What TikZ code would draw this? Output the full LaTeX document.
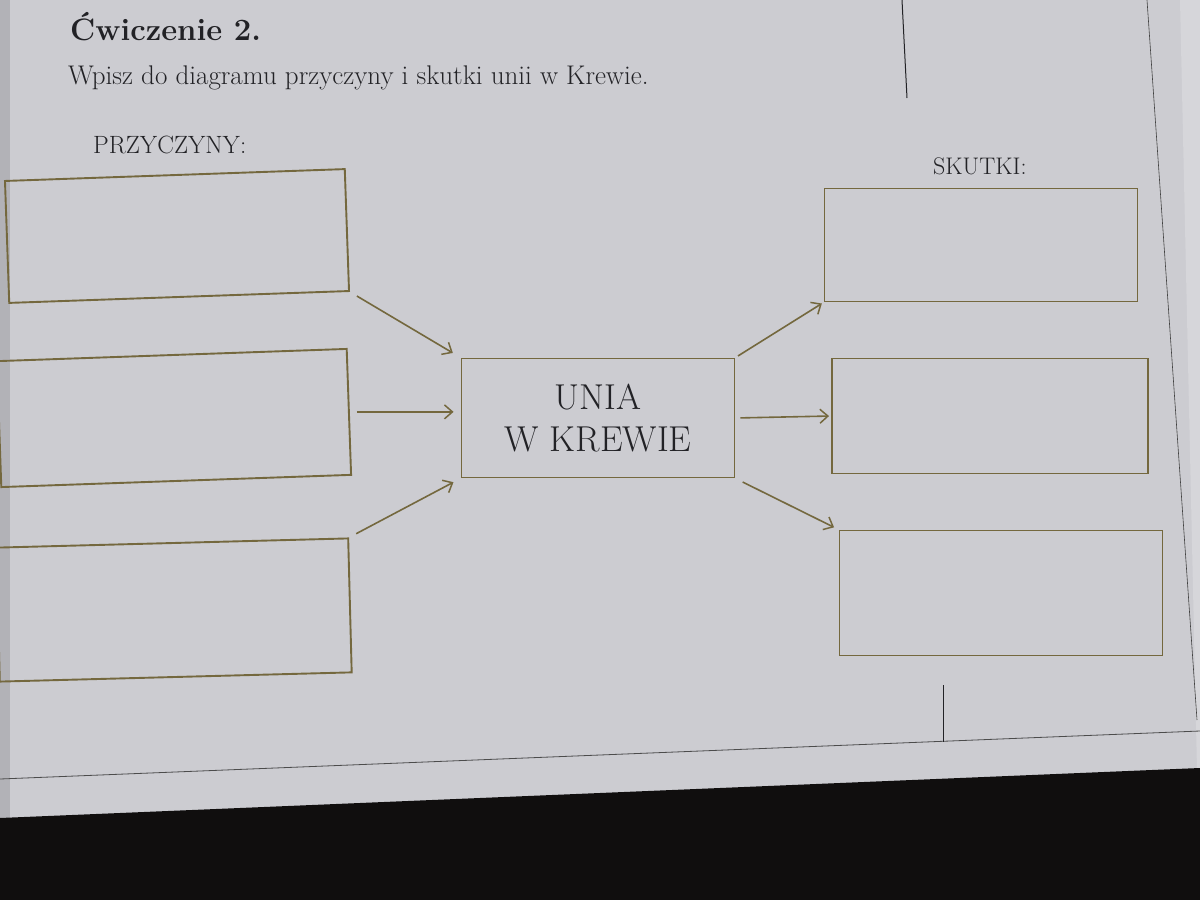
\documentclass[tikz,border=0pt]{standalone}
\usepackage{fontspec}
\usetikzlibrary{arrows.meta}

\definecolor{pagecol}{RGB}{204,204,209}
\definecolor{edgecol}{RGB}{178,178,183}
\definecolor{floorcol}{RGB}{16,14,14}
\definecolor{framecol}{RGB}{116,104,62}
\definecolor{inkcol}{RGB}{34,34,38}

\begin{document}
\begin{tikzpicture}[x=1pt,y=-1pt,
    box/.style={draw=framecol, line width=1.9pt, inner sep=0pt},
    arr/.style={draw=framecol, line width=1.6pt, -{Straight Barb[length=8pt,width=14pt,line width=1.5pt]}},
    lbl/.style={text=inkcol, inner sep=0pt}]

\useasboundingbox (0,0) rectangle (1200,900);

% Background
\fill[pagecol] (0,0) rectangle (1200,900);
\fill[edgecol] (0,0) rectangle (10,818);
\fill[pagecol!80!white] (1180,0) -- (1200,0) -- (1200,770) -- (1197,770) -- cycle;
\fill[floorcol] (0,818) -- (1200,768) -- (1200,900) -- (0,900) -- cycle;
\draw[gray!60!black, line width=0.8pt] (0,779) -- (1200,731);% sheet edge
\draw[gray!50!black, line width=0.6pt] (1147,0) -- (1197,720);
\draw[inkcol, line width=1pt] (902,0) -- (907,98);
\draw[inkcol, line width=0.8pt] (943,685) -- (943,742);

% Headings
\node[lbl, anchor=base west, font=\fontsize{31}{36}\selectfont\bfseries] (title) at (70,40) {Ćwiczenie 2.};
\node[lbl, anchor=base west, font=\fontsize{27}{31}\selectfont] (task) at (68,84) {Wpisz do diagramu przyczyny i skutki unii w Krewie.};
\node[lbl, anchor=base west, font=\fontsize{25}{29}\selectfont] (causes) at (93,153) {PRZYCZYNY:};
\node[lbl, anchor=base west, font=\fontsize{24}{28}\selectfont] (effects) at (933,174) {SKUTKI:};

% Cause boxes
\node[box, rotate=2, minimum width=340pt, minimum height=122pt] (c1) at (177,236) {};
\node[box, rotate=2, minimum width=350pt, minimum height=126pt] (c2) at (174,418) {};
\node[box, rotate=1.5, minimum width=352pt, minimum height=134pt] (c3) at (174,610) {};

% Centre box
\node[box, minimum width=273pt, minimum height=119pt, align=center, text=inkcol,
      font=\fontsize{36}{42}\selectfont] (unia) at (598,418) {UNIA\\W KREWIE};

% Effect boxes
\node[box, minimum width=313pt, minimum height=113pt] (s1) at (981,245) {};
\node[box, minimum width=316pt, minimum height=115pt] (s2) at (990,416) {};
\node[box, minimum width=323pt, minimum height=125pt] (s3) at (1001,593) {};

% Arrows
\draw[arr, shorten <=8pt, shorten >=9pt] (c1.south east) -- (unia.north west);
\draw[arr, shorten <=7pt, shorten >=7pt] (c2.east) -- (c2.east -| unia.west);
\draw[arr, shorten <=8pt, shorten >=8pt] (c3.north east) -- (unia.south west);
\draw[arr, shorten <=3pt, shorten >=2pt] (unia.north east) -- (s1.south west);
\draw[arr, shorten <=5pt, shorten >=2pt] (unia.east) -- (s2.west);
\draw[arr, shorten <=8pt, shorten >=5pt] (unia.south east) -- (s3.north west);

\end{tikzpicture}
\end{document}
